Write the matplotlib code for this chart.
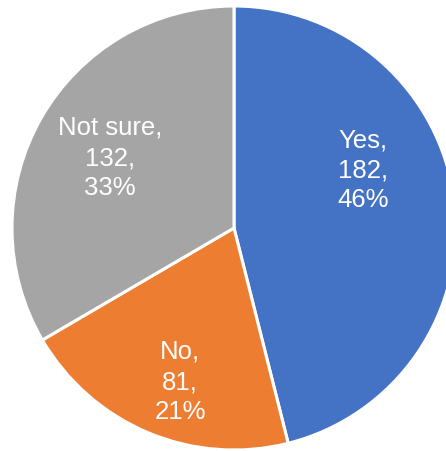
import matplotlib
matplotlib.use("Agg")
import matplotlib.pyplot as plt

# survey answers
answers = ["Yes", "No", "Not sure"]
counts = [182, 81, 132]
colors = ["#4472C4", "#ED7D31", "#A5A5A5"]

plt.rcParams['font.family'] = ['Liberation Sans', 'DejaVu Sans']

fig = plt.figure(figsize=(4.46, 4.51), dpi=100)
ax = fig.add_axes([0, 0, 1, 1])

wedges, _ = ax.pie(counts, colors=colors, startangle=90, counterclock=False,
                   radius=1.0, center=(0, 0),
                   wedgeprops=dict(edgecolor="white", linewidth=2.2))

total = sum(counts)
# label positions inside each slice
label_pos = [(0.58, 0.26), (-0.243, -0.694), (-0.559, 0.315)]
for name, n, (x, y) in zip(answers, counts, label_pos):
    pct = round(100 * n / total)
    ax.text(x, y, "{},\n{},\n{}%".format(name, n, pct), ha="center", va="center",
            color="white", fontsize=18.5, linespacing=1.32)

ax.set_xlim(-234 / 222, (446 - 234) / 222)
ax.set_ylim(-223 / 222, 228 / 222)
ax.set_aspect("equal")
ax.axis("off")

fig.savefig("out.png", dpi=100)
